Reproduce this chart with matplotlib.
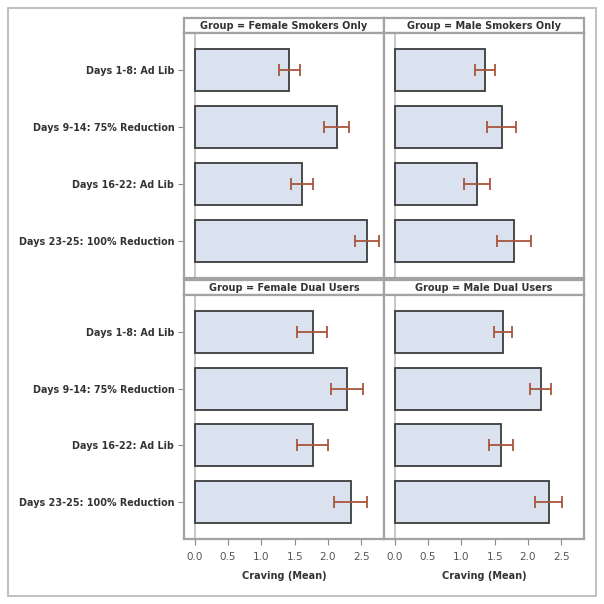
import numpy as np
import matplotlib
matplotlib.use("Agg")
import matplotlib.pyplot as plt
from matplotlib.patches import Rectangle

# periods on the y axis (top to bottom)
periods = ["Days 1-8: Ad Lib", "Days 9-14: 75% Reduction",
           "Days 16-22: Ad Lib", "Days 23-25: 100% Reduction"]

groups = ["Female Smokers Only", "Male Smokers Only",
          "Female Dual Users", "Male Dual Users"]

# mean craving and error-bar limits
fem_smk_mean = [1.42, 2.13, 1.61, 2.59]
fem_smk_lo = [1.27, 1.94, 1.44, 2.40]
fem_smk_hi = [1.58, 2.32, 1.78, 2.77]

male_smk_mean = [1.36, 1.61, 1.24, 1.79]
male_smk_lo = [1.21, 1.39, 1.04, 1.53]
male_smk_hi = [1.51, 1.82, 1.43, 2.05]

fem_dual_mean = [1.77, 2.28, 1.78, 2.34]
fem_dual_lo = [1.54, 2.04, 1.54, 2.09]
fem_dual_hi = [1.98, 2.52, 2.00, 2.59]

male_dual_mean = [1.63, 2.20, 1.59, 2.31]
male_dual_lo = [1.49, 2.03, 1.41, 2.11]
male_dual_hi = [1.76, 2.35, 1.78, 2.51]

xticks = [0.0, 0.5, 1.0, 1.5, 2.0, 2.5]

panels = [
    (fem_smk_mean, fem_smk_lo, fem_smk_hi),
    (male_smk_mean, male_smk_lo, male_smk_hi),
    (fem_dual_mean, fem_dual_lo, fem_dual_hi),
    (male_dual_mean, male_dual_lo, male_dual_hi),
]

W = 604.0
fig = plt.figure(figsize=(6.04, 6.04), dpi=100)
fig.patch.set_facecolor("white")

grey = "#a3a3a3"
bar_fill = "#dae1ef"
bar_edge = "#3c3c3c"
err_col = "#a9553b"


def px_axes(x0, y0, x1, y1):
    # pixel box (y from the top) -> figure axes
    return fig.add_axes([x0 / W, 1 - y1 / W, (x1 - x0) / W, (y1 - y0) / W])


# outer frame
fig.add_artist(Rectangle((8 / W, 1 - 596 / W), 588 / W, 588 / W,
                         transform=fig.transFigure, fill=False,
                         edgecolor="#b5b5b5", lw=1.2))

cols = [(184, 384), (384, 584)]
rows = [((18, 33), (33, 278)), ((280, 295), (295, 539))]

ypos = np.arange(len(periods))

for i, (mean, lo, hi) in enumerate(panels):
    r, c = divmod(i, 2)
    x0, x1 = cols[c]
    (h0, h1), (p0, p1) = rows[r]

    # header strip
    hax = px_axes(x0, h0, x1, h1)
    hax.set_xticks([])
    hax.set_yticks([])
    for s in hax.spines.values():
        s.set_color(grey)
        s.set_linewidth(1.6)
    hax.text(0.5, 0.45, "Group = " + groups[i], ha="center", va="center",
             fontsize=7.0, fontweight="bold", color="#333333",
             transform=hax.transAxes)

    ax = px_axes(x0, p0, x1, p1)
    mean = np.array(mean)
    xerr = [mean - np.array(lo), np.array(hi) - mean]
    ax.axvline(0, color="#bdbdbd", lw=1.2, zorder=0)
    ax.barh(ypos, mean, height=0.74, color=bar_fill, edgecolor=bar_edge,
            linewidth=1.3, zorder=2)
    ax.errorbar(mean, ypos, xerr=xerr, fmt="none", ecolor=err_col,
                elinewidth=1.3, capsize=4, capthick=1.3, zorder=3)
    ax.set_xlim(-0.16, 2.84)
    ax.set_ylim(3.66, -0.66)
    for s in ax.spines.values():
        s.set_color(grey)
        s.set_linewidth(1.6)

    if c == 0:
        ax.set_yticks(ypos)
        ax.set_yticklabels(periods, fontsize=6.9, fontweight="bold",
                           color="#333333")
        ax.tick_params(axis="y", length=4, color="#888888", pad=3)
    else:
        ax.set_yticks([])

    if r == 1:
        ax.set_xticks(xticks)
        ax.set_xticklabels(["%.1f" % t for t in xticks], fontsize=7.5,
                           color="#555555")
        ax.tick_params(axis="x", length=4, color="#888888", pad=5)
        ax.set_xlabel("Craving (Mean)", fontsize=7.0, fontweight="bold",
                      color="#333333", labelpad=7)
    else:
        ax.set_xticks([])

fig.savefig("out.png", dpi=100, facecolor="white")
